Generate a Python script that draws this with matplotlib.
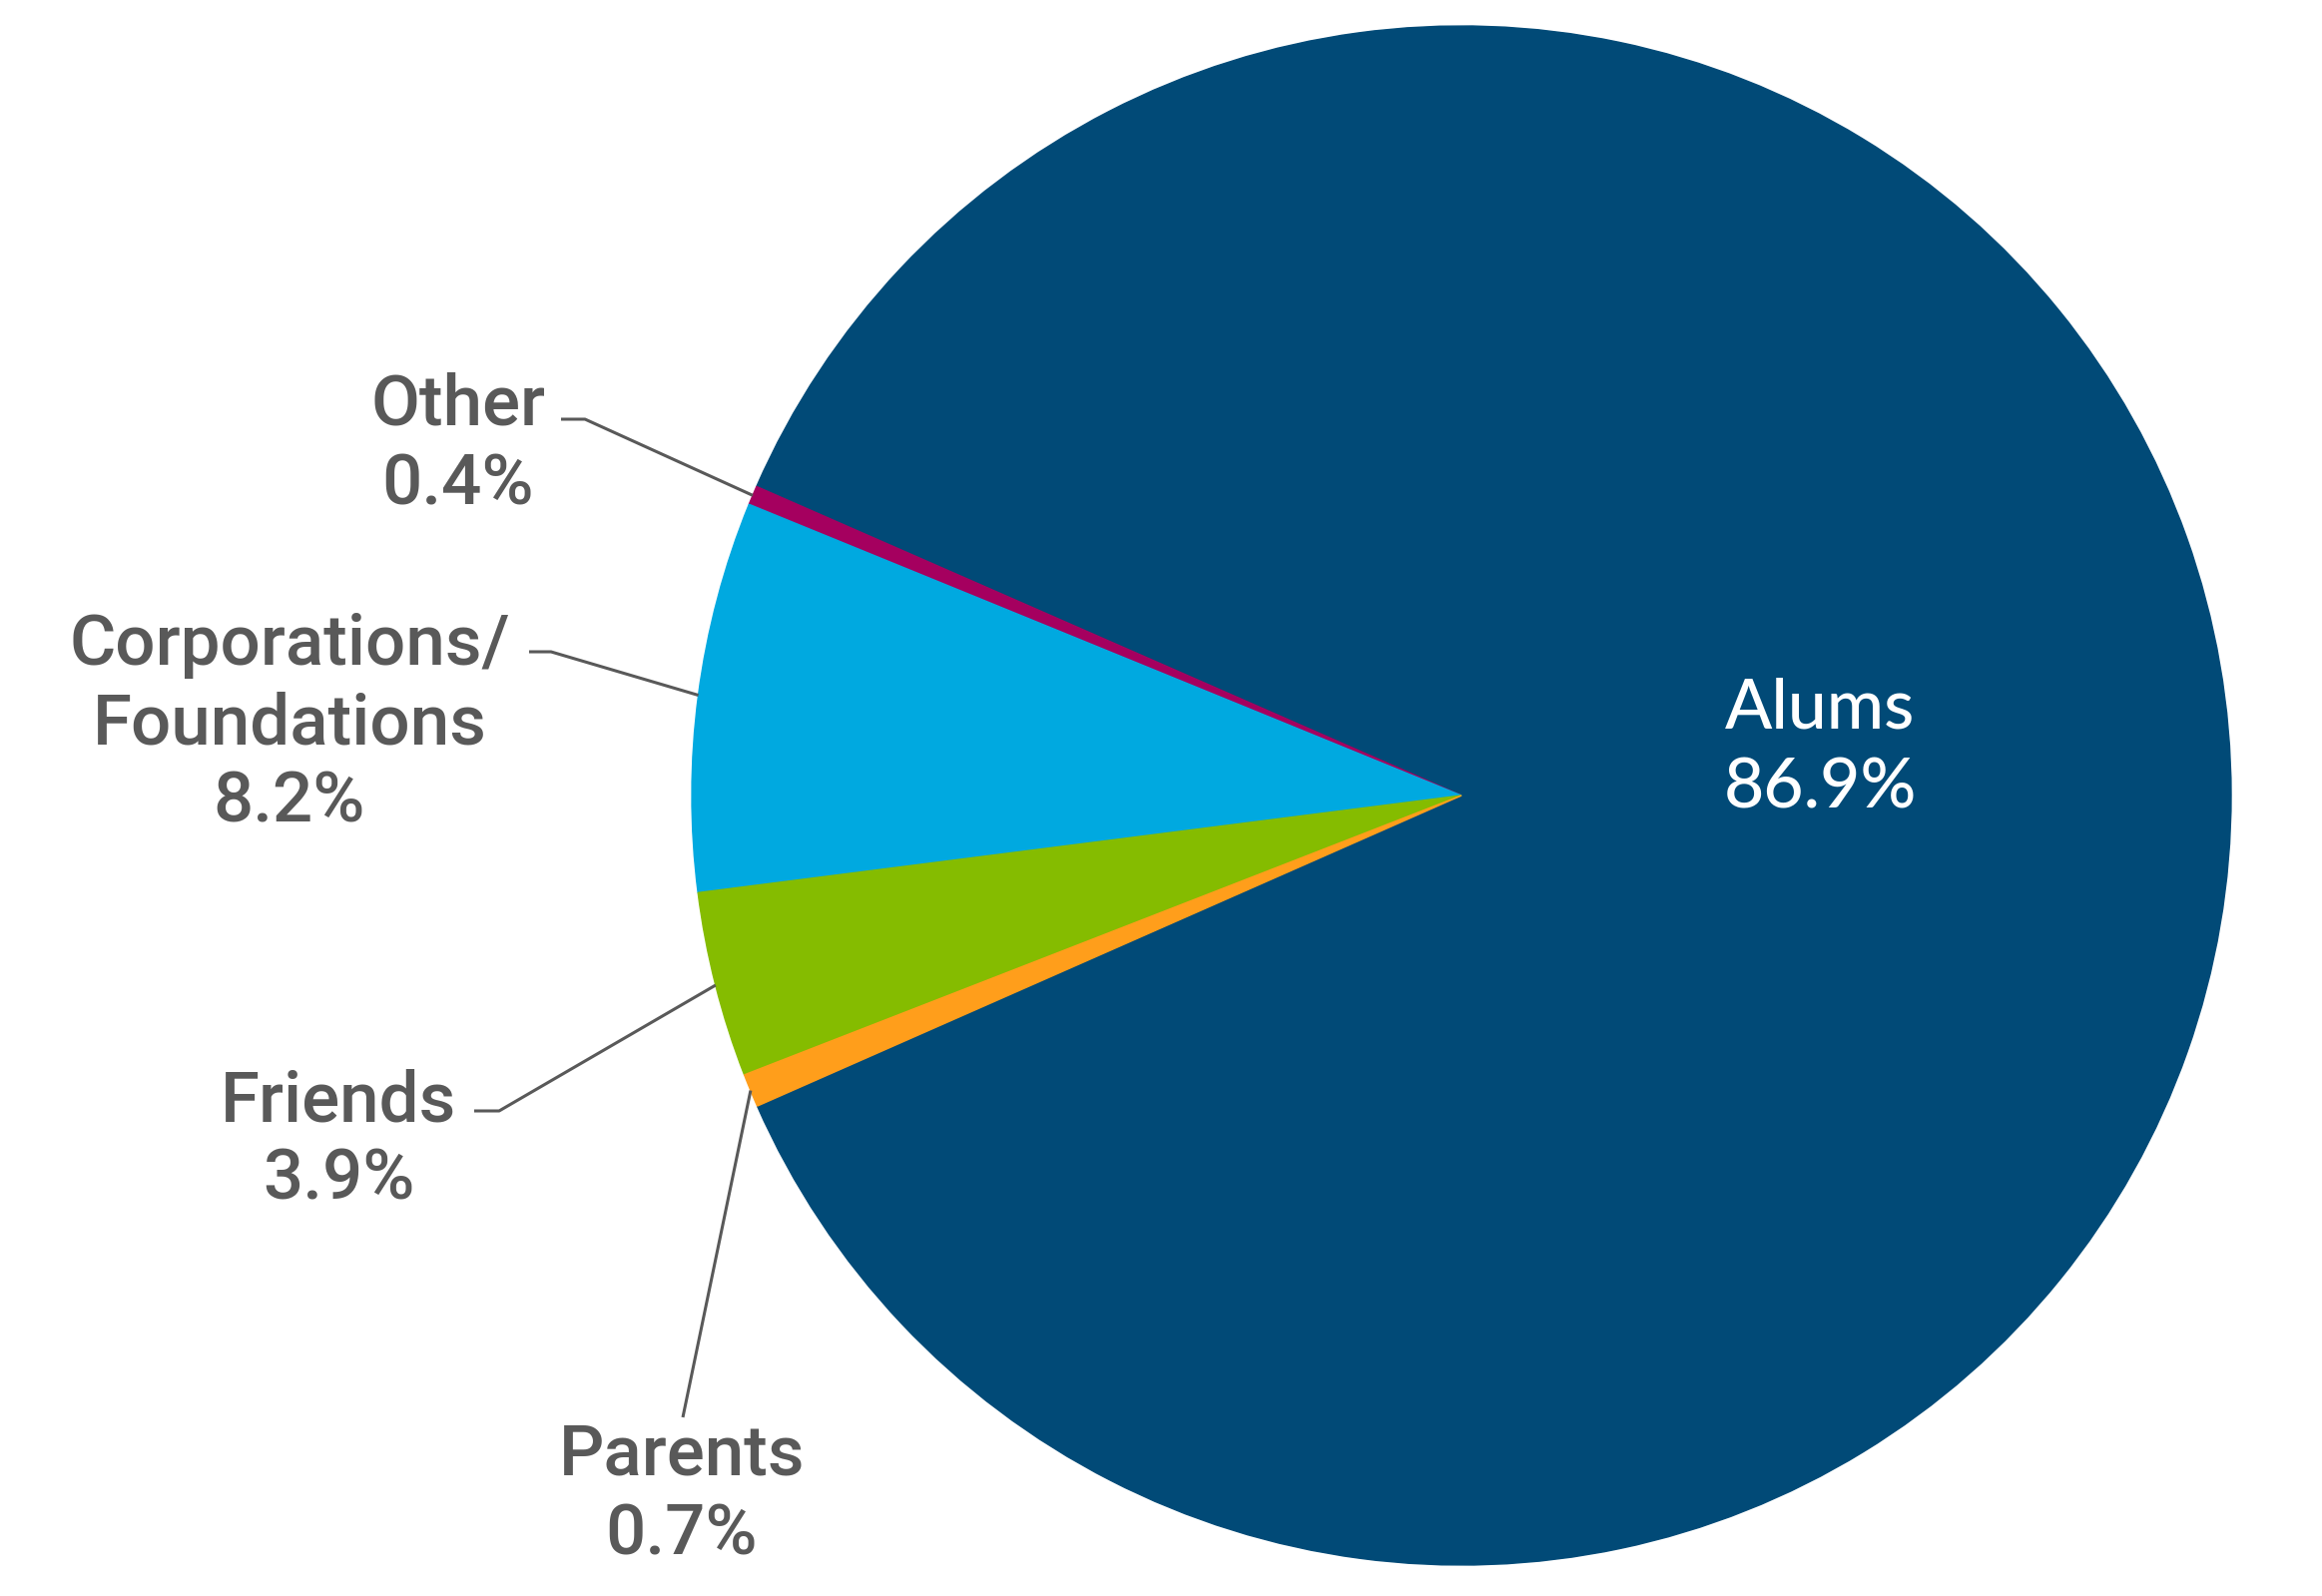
import numpy as np
import matplotlib
matplotlib.use("Agg")
import matplotlib.pyplot as plt

# data, counter-clockwise from the bottom-left
labels = ["Alums", "Other", "Corporations/\nFoundations", "Friends", "Parents"]
values = [86.9, 0.4, 8.2, 3.9, 0.7]
colors = ["#014A77", "#A5005F", "#00A9E0", "#85BC00", "#FF9E1B"]

W, H = 2326, 1599
gray = "#595959"

fig = plt.figure(figsize=(W / 100, H / 100), dpi=100)
ax = fig.add_axes([0, 0, 1, 1])

cx, cy, R = 1464, H - 797, 771
wedges, _ = ax.pie(values, colors=colors, startangle=203.8, counterclock=True,
                   center=(cx, cy), radius=R, wedgeprops=dict(linewidth=1))
for w in wedges:
    w.set_edgecolor(w.get_facecolor())
ax.set_xlim(0, W)
ax.set_ylim(0, H)
ax.set_aspect("auto")
ax.axis("off")

# label anchors (center x, first baseline y from top), elbow of leader line
pos = {
    "Other": (459, 426, (562, 586, 420)),
    "Corporations/\nFoundations": (290, 666, (530, 552, 653)),
    "Friends": (339, 1123, (475, 500, 1113)),
    "Parents": (683, 1478, None),
}
step = 79

for w, lab, val in zip(wedges, labels, values):
    lines = lab.split("\n") + [f"{val}%"]
    if lab == "Alums":
        for i, s in enumerate(lines):
            ax.text(1823, H - (730 + i * step), s, ha="center", va="baseline",
                    fontsize=50, fontweight="medium", color="white",
                    family=["Lato", "DejaVu Sans"])
        continue
    x, y, elbow = pos[lab]
    for i, s in enumerate(lines):
        ax.text(x, H - (y + i * step), s, ha="center", va="baseline",
                fontsize=51, fontweight="medium", color=gray,
                family=["Roboto", "DejaVu Sans"])
    mid = np.deg2rad((w.theta1 + w.theta2) / 2)
    ex, ey = cx + R * np.cos(mid), cy + R * np.sin(mid)
    if elbow is None:
        ax.plot([684, ex], [H - 1420, ey], color=gray, lw=2.2, solid_capstyle="butt")
    else:
        x0, x1, yy = elbow
        ax.plot([x0, x1, ex], [H - yy, H - yy, ey], color=gray, lw=2.2,
                solid_capstyle="butt")

fig.savefig("out.png", dpi=100)
